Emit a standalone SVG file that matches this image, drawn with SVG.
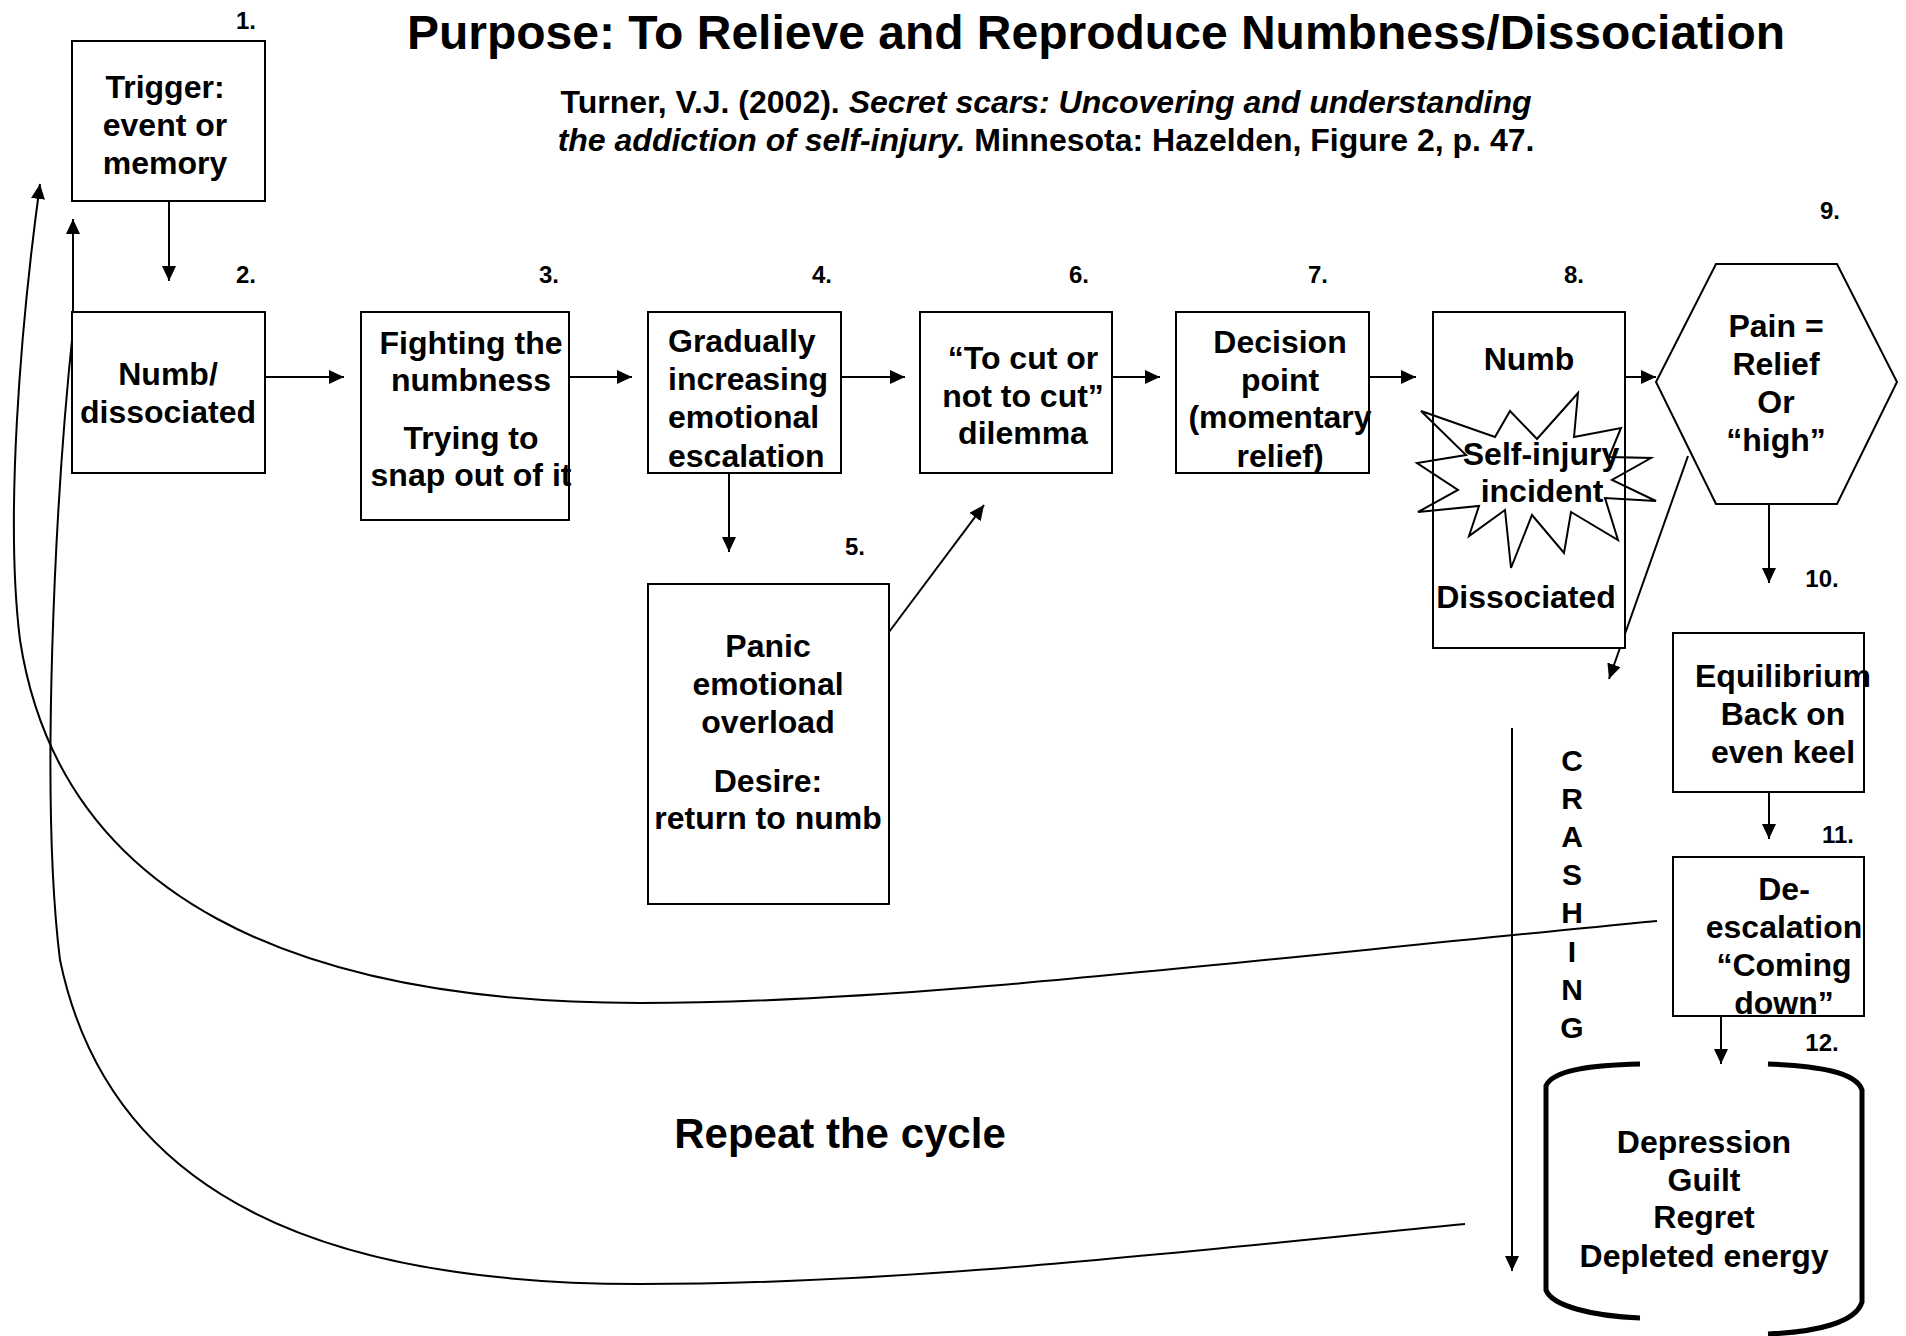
<svg xmlns="http://www.w3.org/2000/svg" width="1906" height="1336" viewBox="0 0 1906 1336">
<style>
.bg{fill:#fff}
.box{fill:#fff;stroke:#000;stroke-width:2}
.t{font-family:"Liberation Sans",Arial,sans-serif;font-weight:bold;font-size:32px;text-anchor:middle;fill:#000}
.n{font-family:"Liberation Sans",Arial,sans-serif;font-weight:bold;font-size:24px;text-anchor:middle;fill:#000}
.k{font-size:30px}
.c{stroke:#000;stroke-width:2;fill:none}
.a{marker-end:url(#arr)}
</style>
<defs>
<marker id="arr" markerUnits="userSpaceOnUse" markerWidth="16" markerHeight="16" refX="15" refY="7" orient="auto">
<path d="M0,0 L15,7 L0,14 z" fill="#000"/>
</marker>
</defs>
<rect class="bg" x="0" y="0" width="1906" height="1336"/>

<g id="title">
<text class="t" x="1096" y="49" style="font-size:48px">Purpose: To Relieve and Reproduce Numbness/Dissociation</text>
<text class="t" x="1046" y="113">Turner, V.J. (2002). <tspan font-style="italic">Secret scars: Uncovering and understanding</tspan></text>
<text class="t" x="1046" y="151"><tspan font-style="italic">the addiction of self-injury.</tspan> Minnesota: Hazelden, Figure 2, p. 47.</text>
</g>

<g id="connectors">
<line class="c a" x1="169" y1="201" x2="169" y2="281"/>
<line class="c a" x1="265" y1="377" x2="344" y2="377"/>
<line class="c a" x1="569" y1="377" x2="632" y2="377"/>
<line class="c a" x1="841" y1="377" x2="905" y2="377"/>
<line class="c a" x1="1112" y1="377" x2="1160" y2="377"/>
<line class="c a" x1="1369" y1="377" x2="1416" y2="377"/>
<line class="c a" x1="1625" y1="377" x2="1656" y2="377"/>
<line class="c a" x1="729" y1="473" x2="729" y2="552"/>
<line class="c a" x1="889" y1="632" x2="984" y2="505"/>
<line class="c a" x1="1769" y1="504" x2="1769" y2="583"/>
<line class="c a" x1="1769" y1="792" x2="1769" y2="839"/>
<line class="c a" x1="1721" y1="1016" x2="1721" y2="1064"/>
<line class="c a" x1="1688" y1="456" x2="1609" y2="679"/>
<line class="c a" x1="1512" y1="728" x2="1512" y2="1271"/>
<path class="c a" d="M1657,921 C1200,965 900,1003 640,1003 C300,1003 60,900 20,640 C5,520 20,330 40,184"/>
<path class="c a" d="M1465,1224 C1150,1255 900,1284 640,1284 C330,1284 110,1200 60,960 C40,800 55,500 73,330 L73,219"/>
</g>

<g id="n1">
<rect class="box" x="72" y="41" width="193" height="160"/>
<text class="t" x="165" y="98">Trigger:</text>
<text class="t" x="165" y="136">event or</text>
<text class="t" x="165" y="174">memory</text>
<text class="n" x="246" y="29">1.</text>
</g>

<g id="n2">
<rect class="box" x="72" y="312" width="193" height="161"/>
<text class="t" x="168" y="385">Numb/</text>
<text class="t" x="168" y="423">dissociated</text>
<text class="n" x="246" y="283">2.</text>
</g>

<g id="n3">
<rect class="box" x="361" y="312" width="208" height="208"/>
<text class="t" x="471" y="354">Fighting the</text>
<text class="t" x="471" y="391">numbness</text>
<text class="t" x="471" y="449">Trying to</text>
<text class="t" x="471" y="486">snap out of it</text>
<text class="n" x="549" y="283">3.</text>
</g>

<g id="n4">
<rect class="box" x="648" y="312" width="193" height="161"/>
<text class="t" x="668" y="352" style="text-anchor:start">Gradually</text>
<text class="t" x="668" y="390" style="text-anchor:start">increasing</text>
<text class="t" x="668" y="428" style="text-anchor:start">emotional</text>
<text class="t" x="668" y="467" style="text-anchor:start">escalation</text>
<text class="n" x="822" y="283">4.</text>
</g>

<g id="n5">
<rect class="box" x="648" y="584" width="241" height="320"/>
<text class="t" x="768" y="657">Panic</text>
<text class="t" x="768" y="695">emotional</text>
<text class="t" x="768" y="733">overload</text>
<text class="t" x="768" y="792">Desire:</text>
<text class="t" x="768" y="829">return to numb</text>
<text class="n" x="855" y="555">5.</text>
</g>

<g id="n6">
<rect class="box" x="920" y="312" width="192" height="161"/>
<text class="t" x="1023" y="369">“To cut or</text>
<text class="t" x="1023" y="407">not to cut”</text>
<text class="t" x="1023" y="444">dilemma</text>
<text class="n" x="1079" y="283">6.</text>
</g>

<g id="n7">
<rect class="box" x="1176" y="312" width="193" height="161"/>
<text class="t" x="1280" y="353">Decision</text>
<text class="t" x="1280" y="391">point</text>
<text class="t" x="1280" y="428">(momentary</text>
<text class="t" x="1280" y="467">relief)</text>
<text class="n" x="1318" y="283">7.</text>
</g>

<g id="n8">
<rect class="box" x="1433" y="312" width="192" height="336"/>
<polygon points="1421,411 1495,437 1510,411 1537,439 1578,393 1574,437 1621,428 1609,457 1651,458 1612,480 1656,501 1605,498 1618,540 1571,512 1564,553 1532,515 1511,568 1505,510 1469,536 1479,506 1418,512 1458,490 1417,463 1466,455" fill="none" stroke="#000" stroke-width="2"/>
<text class="t" x="1529" y="370">Numb</text>
<text class="t" x="1541" y="465">Self-injury</text>
<text class="t" x="1542" y="502">incident</text>
<text class="t" x="1526" y="608">Dissociated</text>
<text class="n" x="1574" y="283">8.</text>
</g>

<g id="n9">
<polygon class="box" points="1716,264 1837,264 1897,382 1837,504 1716,504 1656,382"/>
<text class="t" x="1776" y="337">Pain =</text>
<text class="t" x="1776" y="375">Relief</text>
<text class="t" x="1776" y="413">Or</text>
<text class="t" x="1776" y="451">“high”</text>
<text class="n" x="1830" y="219">9.</text>
</g>

<g id="n10">
<rect class="box" x="1673" y="633" width="191" height="159"/>
<text class="t" x="1783" y="687">Equilibrium</text>
<text class="t" x="1783" y="725">Back on</text>
<text class="t" x="1783" y="763">even keel</text>
<text class="n" x="1822" y="587">10.</text>
</g>

<g id="n11">
<rect class="box" x="1673" y="857" width="191" height="159"/>
<text class="t" x="1784" y="900">De-</text>
<text class="t" x="1784" y="938">escalation</text>
<text class="t" x="1784" y="976">“Coming</text>
<text class="t" x="1784" y="1014">down”</text>
<text class="n" x="1838" y="843">11.</text>
</g>

<g id="n12">
<path d="M1640,1064 C1592,1065 1552,1070 1546,1086 L1546,1290 C1552,1306 1592,1316 1640,1318" fill="none" stroke="#000" stroke-width="5"/>
<path d="M1768,1064 C1818,1066 1856,1072 1862,1090 L1862,1302 C1856,1322 1818,1332 1768,1334" fill="none" stroke="#000" stroke-width="5"/>
<text class="t" x="1704" y="1153">Depression</text>
<text class="t" x="1704" y="1191">Guilt</text>
<text class="t" x="1704" y="1228">Regret</text>
<text class="t" x="1704" y="1267">Depleted energy</text>
<text class="n" x="1822" y="1051">12.</text>
</g>

<g id="crashing">
<text class="t k" x="1572" y="771">C</text>
<text class="t k" x="1572" y="809">R</text>
<text class="t k" x="1572" y="847">A</text>
<text class="t k" x="1572" y="885">S</text>
<text class="t k" x="1572" y="923">H</text>
<text class="t k" x="1572" y="962">I</text>
<text class="t k" x="1572" y="1000">N</text>
<text class="t k" x="1572" y="1038">G</text>
</g>

<g id="repeat">
<text class="t" x="840" y="1148" style="font-size:42px">Repeat the cycle</text>
</g>
</svg>
